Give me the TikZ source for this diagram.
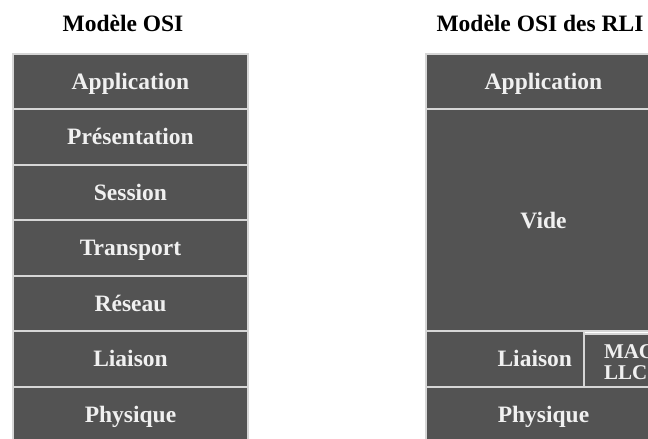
\documentclass[tikz,border=0pt]{standalone}
\usepackage{fontspec}
\setmainfont{Liberation Serif}
\usepackage{xcolor}
\usetikzlibrary{positioning}
\definecolor{layerfill}{RGB}{83, 83, 83}
\definecolor{layerline}{RGB}{214, 214, 214}
\definecolor{layertext}{RGB}{240, 240, 240}

\begin{document}
\begin{tikzpicture}[
    x=1pt, y=1pt,
    title/.style={anchor=base, font=\fontsize{23.5}{26}\selectfont\bfseries, inner sep=0pt},
    layer/.style={rectangle, draw=layerline, fill=layerfill, line width=2pt, text=layertext, font=\fontsize{23.5}{26}\selectfont\bfseries, minimum width=235pt, minimum height=55.5pt, outer sep=0pt, inner sep=0pt, text height=15.5pt, text depth=0pt},
    sublayer/.style={rectangle, draw=layerline, fill=layerfill, line width=2pt, text=layertext, font=\fontsize{21}{21}\selectfont\bfseries, minimum height=55.5pt, outer sep=0pt, inner ysep=0pt, inner xsep=20pt, align=left, text width=60pt}
]
\useasboundingbox (0,0) rectangle (648,439);
\clip (0,0) rectangle (648,439);

% Titles
\node[title] (titleosi) at (123,407) {Modèle OSI};
\node[title] (titlerli) at (540,407) {Modèle OSI des RLI};

% OSI stack
\node[layer, anchor=north west] (app) at (13,385) {Application};
\node[layer, below=0pt of app] (pres) {Présentation};
\node[layer, below=0pt of pres] (sess) {Session};
\node[layer, below=0pt of sess] (trans) {Transport};
\node[layer, below=0pt of trans] (res) {Réseau};
\node[layer, below=0pt of res] (liaison) {Liaison};
\node[layer, below=0pt of liaison] (phys) {Physique};

% RLI stack
\node[layer, anchor=north west] (apprli) at (426,385) {Application};
\node[layer, below=0pt of apprli, minimum height=222pt] (vide) {Vide};
\node[layer, anchor=north west, minimum width=158pt, inner xsep=12pt, text width=134pt, align=right] (liaisonrli) at (vide.south west) {Liaison};
\node[sublayer, anchor=west, yshift=-3pt] (macllc) at (liaisonrli.east) {MAC\\LLC};
\node[layer, anchor=north west] (physrli) at (liaisonrli.south west) {Physique};

\end{tikzpicture}
\end{document}
